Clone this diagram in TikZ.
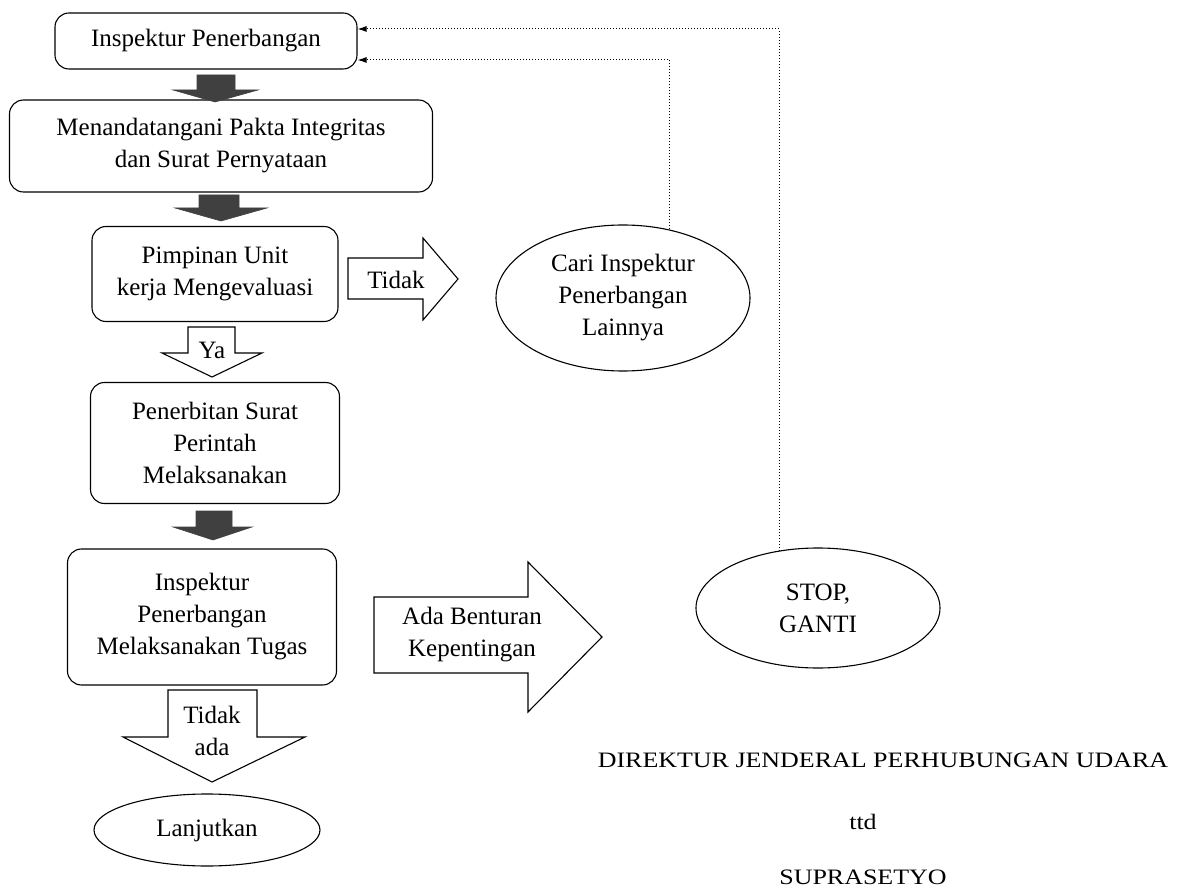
\documentclass[tikz,border=0pt]{standalone}
\usepackage{fontspec}
\setmainfont{Liberation Serif}
\newfontfamily\ttdfont[FakeStretch=1.18]{Liberation Serif}
\usetikzlibrary{shapes.geometric, arrows.meta, calc}

\tikzset{
	kotak/.style={draw, rounded corners=14pt, line width=1.1pt, align=center, inner sep=0pt, font=\fontsize{25}{32}\selectfont},
	elips/.style={draw, ellipse, line width=1.1pt, align=center, inner sep=0pt, font=\fontsize{25}{32}\selectfont},
	tulisan/.style={align=center, inner sep=0pt, font=\fontsize{25}{32}\selectfont},
	ttdtulisan/.style={inner sep=0pt, font=\ttdfont\fontsize{22}{26}\selectfont},
	panahgelap/.style={fill=black!75, draw=black!75, line width=0.6pt},
	panahputih/.style={draw, fill=white, line width=1.1pt, line join=miter},
	titik/.style={dotted, line width=1pt, -{Latex[length=9pt, width=6pt]}}
}

\begin{document}
\begin{tikzpicture}[x=1pt, y=-1pt]
	
	\useasboundingbox (0,0) rectangle (1186,890);
	
	% kotak alur
	\node[kotak, minimum width=302pt, minimum height=56pt](insp) at (206,41) {Inspektur Penerbangan};
	\node[kotak, minimum width=423pt, minimum height=92pt](pakta) at (221,146) {Menandatangani Pakta Integritas\\dan Surat Pernyataan};
	\node[kotak, minimum width=246pt, minimum height=95pt](evaluasi) at (215,274) {Pimpinan Unit\\kerja Mengevaluasi};
	\node[kotak, minimum width=249pt, minimum height=121pt](sprint) at (215,443) {Penerbitan Surat\\Perintah\\Melaksanakan};
	\node[kotak, minimum width=269pt, minimum height=136pt](tugas) at (202,617) {Inspektur\\Penerbangan\\Melaksanakan Tugas};
	
	% elips
	\node[elips, minimum width=254pt, minimum height=146pt](cari) at (623,298) {Cari Inspektur\\Penerbangan\\Lainnya};
	\node[elips, minimum width=244pt, minimum height=120pt](stop) at (818,608) {STOP,\\GANTI};
	\node[elips, minimum width=226pt, minimum height=72pt](lanjut) at (207,830) {Lanjutkan};
	
	% panah gelap
	\draw[panahgelap] (197,75) -- (235,75) -- (235,90) -- (258,90) -- (215,102) -- (173,90) -- (197,90) -- cycle;
	\draw[panahgelap] (199,195) -- (239,195) -- (239,208) -- (267,208) -- (221,221) -- (175,208) -- (199,208) -- cycle;
	\draw[panahgelap] (196,511) -- (232,511) -- (232,527) -- (252,527) -- (213,540) -- (173,527) -- (196,527) -- cycle;
	
	% panah putih
	\draw[panahputih] (348,258) -- (423,258) -- (423,238) -- (458,279) -- (423,320) -- (423,299) -- (348,299) -- cycle;
	\draw[panahputih] (188,327) -- (235,327) -- (235,353) -- (262,353) -- (212,377) -- (162,353) -- (188,353) -- cycle;
	\draw[panahputih] (374,597) -- (528,597) -- (528,562) -- (602,637) -- (528,712) -- (528,673) -- (374,673) -- cycle;
	\draw[panahputih] (168,690) -- (257,690) -- (257,737) -- (305,737) -- (212,782) -- (123,737) -- (168,737) -- cycle;
	
	\node[tulisan](tidak) at (396,280) {Tidak};
	\node[tulisan](ya) at (212,350) {Ya};
	\node[tulisan](benturan) at (472,635) {Ada Benturan\\Kepentingan};
	\node[tulisan](tidakada) at (212,731) {Tidak\\ada};
	
	% garis titik kembali
	\coordinate (masuk_a) at ($(insp.east)+(0,19)$);
	\coordinate (masuk_b) at ($(insp.east)+(0,-12)$);
	\draw[titik] (cari.56) |- (masuk_a);
	\draw[titik] (stop.124) |- (masuk_b);
	
	% pengesahan
	\node[ttdtulisan](dirjen) at (883,760) {DIREKTUR JENDERAL PERHUBUNGAN UDARA};
	\node[ttdtulisan](ttd) at (863,822) {ttd};
	\node[ttdtulisan](nama) at (863,877) {SUPRASETYO};
	
\end{tikzpicture}
\end{document}
